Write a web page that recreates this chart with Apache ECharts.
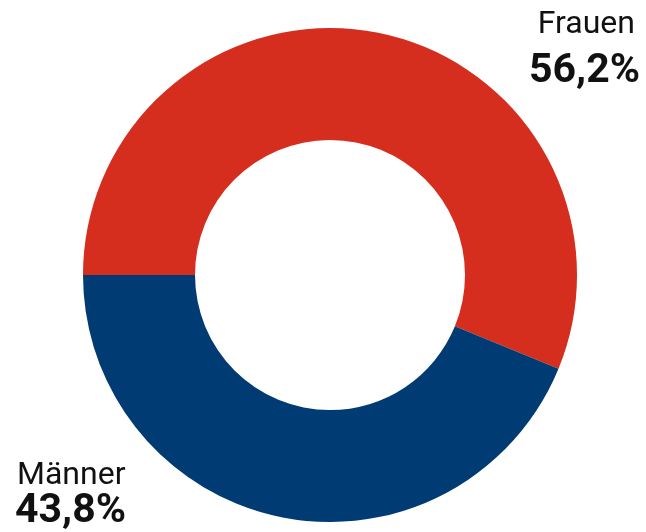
<!DOCTYPE html>
<html>
<head>
<meta charset="utf-8">
<script src="https://cdn.jsdelivr.net/npm/echarts@6/dist/echarts.min.js"></script>
<style>
  html, body { margin: 0; padding: 0; background: #fff; }
  #chart { width: 646px; height: 532px; }
</style>
</head>
<body>
<div id="chart"></div>
<script>
// Anteile nach Geschlecht
const categories = ['Frauen', 'Männer'];
const values = [56.2, 43.8];
const colors = ['#d52e1e', '#003b73'];

const fmt = v => v.toFixed(1).replace('.', ',') + '%';

const chart = echarts.init(document.getElementById('chart'));

chart.setOption({
  animation: false,
  series: [{
    type: 'pie',
    center: [330, 275],
    radius: [135, 247],
    startAngle: 180,
    clockwise: true,
    label: { show: false },
    labelLine: { show: false },
    itemStyle: { borderWidth: 0 },
    emphasis: { disabled: true },
    data: categories.map((c, i) => ({ name: c, value: values[i], itemStyle: { color: colors[i] } }))
  }],
  graphic: [
    { type: 'text', right: 11, top: 9, style: { text: categories[0], font: '400 32px Roboto', fill: '#111', textAlign: 'right' } },
    { type: 'text', right: 6, top: 51, style: { text: fmt(values[0]), font: '700 41px Roboto', fill: '#111', textAlign: 'right' } },
    { type: 'text', left: 17, top: 460, style: { text: categories[1], font: '400 32px Roboto', fill: '#111' } },
    { type: 'text', left: 15, top: 491, style: { text: fmt(values[1]), font: '700 41px Roboto', fill: '#111' } }
  ]
});
</script>
</body>
</html>
